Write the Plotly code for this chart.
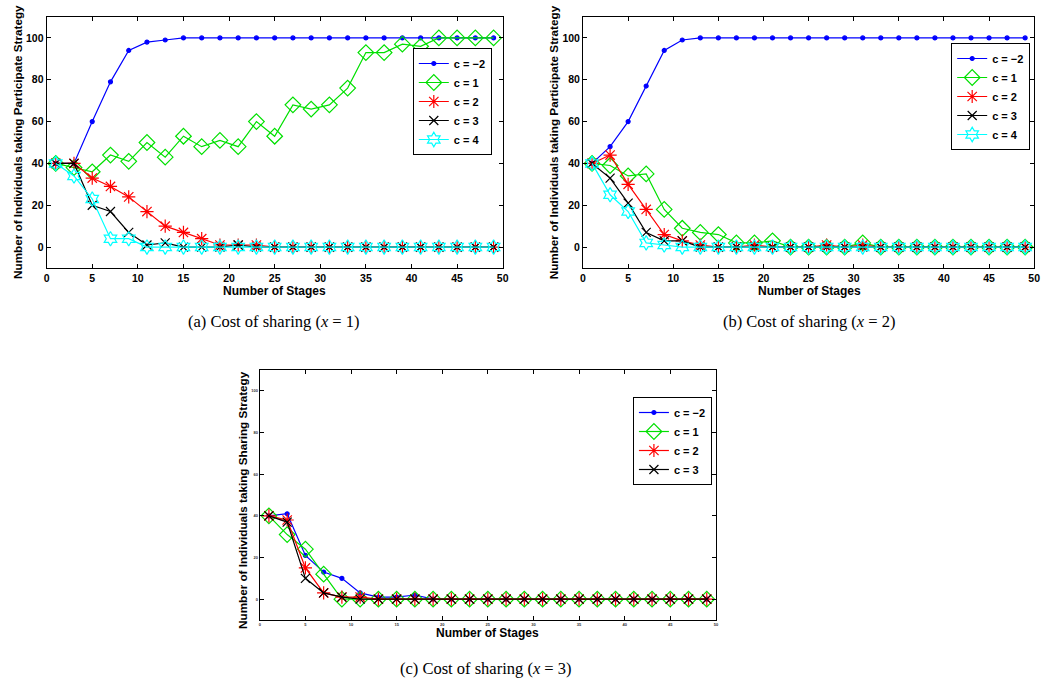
import plotly.graph_objects as go

W, H = 1058, 688

stages = [1, 3, 5, 7, 9, 11, 13, 15, 17, 19, 21, 23, 25, 27, 29, 31, 33, 35, 37, 39, 41, 43, 45, 47, 49]

# Panel (a): cost of sharing x = 1
a_cm2 = [40, 40, 60, 79, 94, 98, 99, 100, 100, 100, 100, 100, 100, 100, 100, 100, 100, 100, 100, 100, 100, 100, 100, 100, 100]
a_c1 = [40, 38, 36, 44, 41, 50, 43, 53, 48, 51, 48, 60, 53, 68, 66, 68, 76, 93, 93, 97, 96, 100, 100, 100, 100]
a_c2 = [40, 40, 33, 29, 24, 17, 10, 7, 4, 1, 1, 1, 0, 0, 0, 0, 0, 0, 0, 0, 0, 0, 0, 0, 0]
a_c3 = [40, 40, 20, 17, 7, 1, 2, 0, 0, 0, 1, 0, 0, 0, 0, 0, 0, 0, 0, 0, 0, 0, 0, 0, 0]
a_c4 = [40, 34, 23, 4, 4, 0, 0, 0, 0, 0, 0, 0, 0, 0, 0, 0, 0, 0, 0, 0, 0, 0, 0, 0, 0]

# Panel (b): cost of sharing x = 2
b_cm2 = [40, 48, 60, 77, 94, 99, 100, 100, 100, 100, 100, 100, 100, 100, 100, 100, 100, 100, 100, 100, 100, 100, 100, 100, 100]
b_c1 = [40, 39, 34, 35, 18, 9, 7, 6, 2, 2, 3, 0, 0, 0, 0, 2, 0, 0, 0, 0, 0, 0, 0, 0, 0]
b_c2 = [40, 44, 30, 18, 6, 3, 1, 0, 0, 1, 0, 0, 0, 1, 0, 1, 0, 0, 0, 0, 0, 0, 0, 0, 0]
b_c3 = [40, 33, 21, 7, 3, 3, 0, 0, 0, 0, 0, 0, 0, 0, 0, 0, 0, 0, 0, 0, 0, 0, 0, 0, 0]
b_c4 = [40, 25, 17, 2, 1, 0, 0, 0, 0, 0, 0, 0, 0, 0, 0, 0, 0, 0, 0, 0, 0, 0, 0, 0, 0]

# Panel (c): cost of sharing x = 3
c_cm2 = [40, 41, 21, 13, 10, 3, 1, 1, 2, 0, 0, 0, 0, 0, 0, 0, 0, 0, 0, 0, 0, 0, 0, 0, 0]
c_c1 = [40, 31, 24, 12, 0, 0, 0, 0, 0, 0, 0, 0, 0, 0, 0, 0, 0, 0, 0, 0, 0, 0, 0, 0, 0]
c_c2 = [40, 38, 15, 3, 1, 1, 0, 0, 0, 0, 0, 0, 0, 0, 0, 0, 0, 0, 0, 0, 0, 0, 0, 0, 0]
c_c3 = [40, 37, 10, 3, 1, 0, 0, 0, 0, 0, 0, 0, 0, 0, 0, 0, 0, 0, 0, 0, 0, 0, 0, 0, 0]

x_ticks = [0, 5, 10, 15, 20, 25, 30, 35, 40, 45, 50]
y_ticks = [0, 20, 40, 60, 80, 100]

names = ["c = \u22122", "c = 1", "c = 2", "c = 3", "c = 4"]
colors = ["#0000ff", "#00e000", "#ff0000", "#000000", "#00ffff"]
symbols = ["circle", "diamond-open", "asterisk-open", "x-thin-open", "hexagram-open"]
sizes = [4, 12, 11, 9, 11]

FONT = "Liberation Sans"

fig = go.Figure()

panels = [
    ("x", "y", "legend", [a_cm2, a_c1, a_c2, a_c3, a_c4]),
    ("x2", "y2", "legend2", [b_cm2, b_c1, b_c2, b_c3, b_c4]),
    ("x3", "y3", "legend3", [c_cm2, c_c1, c_c2, c_c3]),
]

for xa, ya, lg, series in panels:
    for i, ys in enumerate(series):
        fig.add_trace(go.Scatter(
            x=stages, y=ys, xaxis=xa, yaxis=ya, legend=lg,
            name=names[i], mode="lines+markers",
            line=dict(color=colors[i], width=1.2),
            marker=dict(symbol=symbols[i], size=sizes[i], color=colors[i],
                        line=dict(color=colors[i], width=1.2)),
        ))

def px(v):
    return v / W

def py(v):
    return 1 - v / H

ax_common = dict(showgrid=False, zeroline=False, showline=True, linecolor="black",
                 linewidth=1, mirror="ticks", ticks="inside", ticklen=4,
                 tickcolor="black")

tick_big = dict(family=FONT, size=10.5, color="black", weight="bold")
tick_small = dict(family=FONT, size=4, color="#333", weight="bold")

layout = dict(
    width=W, height=H, margin=dict(l=0, r=0, t=0, b=0),
    paper_bgcolor="white", plot_bgcolor="white", showlegend=True,
    xaxis=dict(domain=[px(44), px(504)], range=[0, 50], tickvals=x_ticks,
               anchor="y", tickfont=tick_big, **ax_common),
    yaxis=dict(domain=[py(268), py(17)], range=[-10, 110], tickvals=y_ticks,
               anchor="x", tickfont=tick_big, **ax_common),
    xaxis2=dict(domain=[px(585), px(1040)], range=[0, 50], tickvals=x_ticks,
                anchor="y2", tickfont=tick_big, **ax_common),
    yaxis2=dict(domain=[py(268), py(17)], range=[-10, 110], tickvals=y_ticks,
                anchor="x2", tickfont=tick_big, **ax_common),
    xaxis3=dict(domain=[px(259), px(719)], range=[0, 50], tickvals=x_ticks,
                anchor="y3", tickfont=tick_small, **ax_common),
    yaxis3=dict(domain=[py(620), py(370)], range=[-10, 110], tickvals=y_ticks,
                anchor="x3", tickfont=tick_small, **ax_common),
)

leg_common = dict(bgcolor="white", bordercolor="black", borderwidth=1,
                  font=dict(family=FONT, size=11, color="black", weight="bold"),
                  xanchor="right", yanchor="top", itemwidth=30, tracegroupgap=0)
layout["legend"] = dict(x=px(493), y=py(48), **leg_common)
layout["legend2"] = dict(x=px(1036), y=py(43), **leg_common)
layout["legend3"] = dict(x=px(715), y=py(397), **leg_common)

fig.update_layout(**layout)

title_font = dict(family=FONT, size=12, color="black", weight="bold")
ytitle_font = dict(family=FONT, size=11.7, color="black", weight="bold")
cap_font = dict(family="Liberation Serif", size=16.5, color="black")

annots = [
    (274, 291, "Number of Stages", title_font, 0),
    (813, 291, "Number of Stages", title_font, 0),
    (489, 633, "Number of Stages", title_font, 0),
    (14, 142, "Number of Individuals taking Participate Strategy", ytitle_font, -90),
    (555, 142, "Number of Individuals taking Participate Strategy", ytitle_font, -90),
    (241, 500, "Number of Individuals taking Sharing Strategy", ytitle_font, -90),
    (273, 321, "(a) Cost of sharing (<i>x</i> = 1)", cap_font, 0),
    (813, 321, "(b) Cost of sharing (<i>x</i> = 2)", cap_font, 0),
    (487, 668, "(c) Cost of sharing (<i>x</i> = 3)", cap_font, 0),
]
for xx, yy, txt, f, ang in annots:
    fig.add_annotation(x=px(xx), y=py(yy), xref="paper", yref="paper", text=txt,
                       showarrow=False, font=f, textangle=ang,
                       xanchor="center", yanchor="middle")

fig.write_html("out.html")
